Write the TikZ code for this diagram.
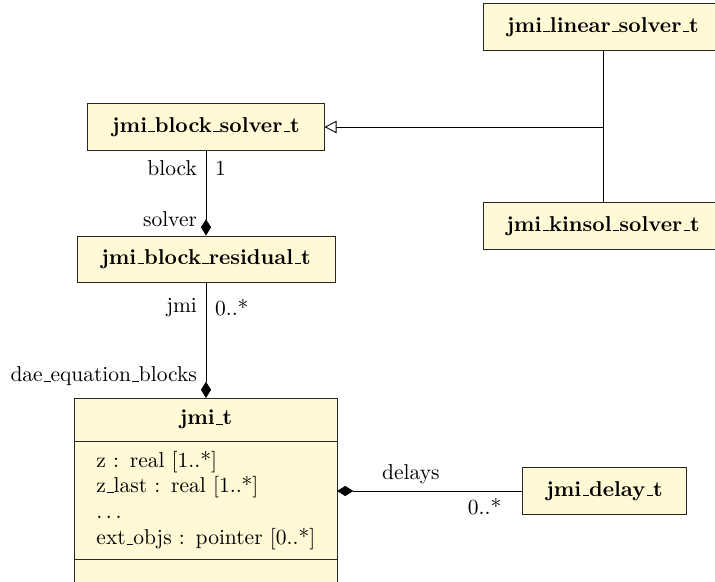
\documentclass[tikz,border=0pt]{standalone}
\usetikzlibrary{arrows.meta}
\definecolor{boxfill}{RGB}{255,249,214}
\newcommand\usc{\leavevmode\kern.06em\vbox{\hrule width.3em}}
\begin{document}
\begin{tikzpicture}[x=0.4651pt,y=-0.4651pt,
  cls/.style={draw=black!85, fill=boxfill, line width=0.45pt, font=\bfseries, inner sep=0pt},
  part/.style={cls, outer sep=0pt},
  conn/.style={draw=black, line width=0.4pt},
  lbl/.style={inner sep=1pt},
  comp/.style={-{Diamond[length=7.6pt,width=4.7pt]}},
  inh/.style={-{Triangle[open,length=5.6pt,width=5.8pt]}}]
\useasboundingbox (0,0) rectangle (715,582);
\clip (0,0) rectangle (715,582);
% classes
\node[cls, minimum width=111.6pt, minimum height=21.9pt] (lin) at (603,27) {jmi\usc linear\usc solver\usc t};
\node[cls, minimum width=111.6pt, minimum height=22.3pt] (kin) at (603,226) {jmi\usc kinsol\usc solver\usc t};
\node[cls, minimum width=109.8pt, minimum height=22.3pt] (bs) at (206,127) {jmi\usc block\usc solver\usc t};
\node[cls, minimum width=120.0pt, minimum height=21.4pt] (br) at (206,259) {jmi\usc block\usc residual\usc t};
\node[cls, minimum width=76.7pt, minimum height=22.3pt] (dl) at (604.5,491) {jmi\usc delay\usc t};
% jmi_t class with compartments
\node[part, anchor=north, minimum width=121.9pt, minimum height=20pt] (jmih) at (206,398) {jmi\usc t};
\node[part, font=\normalfont, anchor=north, minimum width=121.9pt, minimum height=55.3pt,
      text width=101.9pt, inner xsep=10pt, align=left] (jmib) at (jmih.south)
  {z : real [1..*]\\ z\usc last : real [1..*]\\ $\ldots$\\ ext\usc objs : pointer [0..*]};
\node[part, anchor=north, minimum width=121.9pt, minimum height=14pt] (jmio) at (jmib.south) {};
% connectors
\coordinate (j) at (lin.south |- bs.east);
\draw[conn] (lin.south) -- (kin.north);
\draw[conn, inh] (j) -- (bs.east);
\draw[conn, comp] (bs.south) --
  node[lbl, pos=0.2, left=3pt] {block}
  node[lbl, pos=0.2, right=3pt] {1}
  node[lbl, pos=0.8, left=3pt] {solver} (br.north);
\draw[conn, comp] (br.south) --
  node[lbl, pos=0.215, left=3pt] {jmi}
  node[lbl, pos=0.215, right=3pt] {0..*}
  node[lbl, pos=0.81, left=3pt] {dae\usc equation\usc blocks} (jmih.north);
\draw[conn, comp] (dl.west) --
  node[lbl, pos=0.6, above=2pt] {delays}
  node[lbl, pos=0.2, below=2pt] {0..*} (dl.west -| jmib.east);
\end{tikzpicture}
\end{document}
